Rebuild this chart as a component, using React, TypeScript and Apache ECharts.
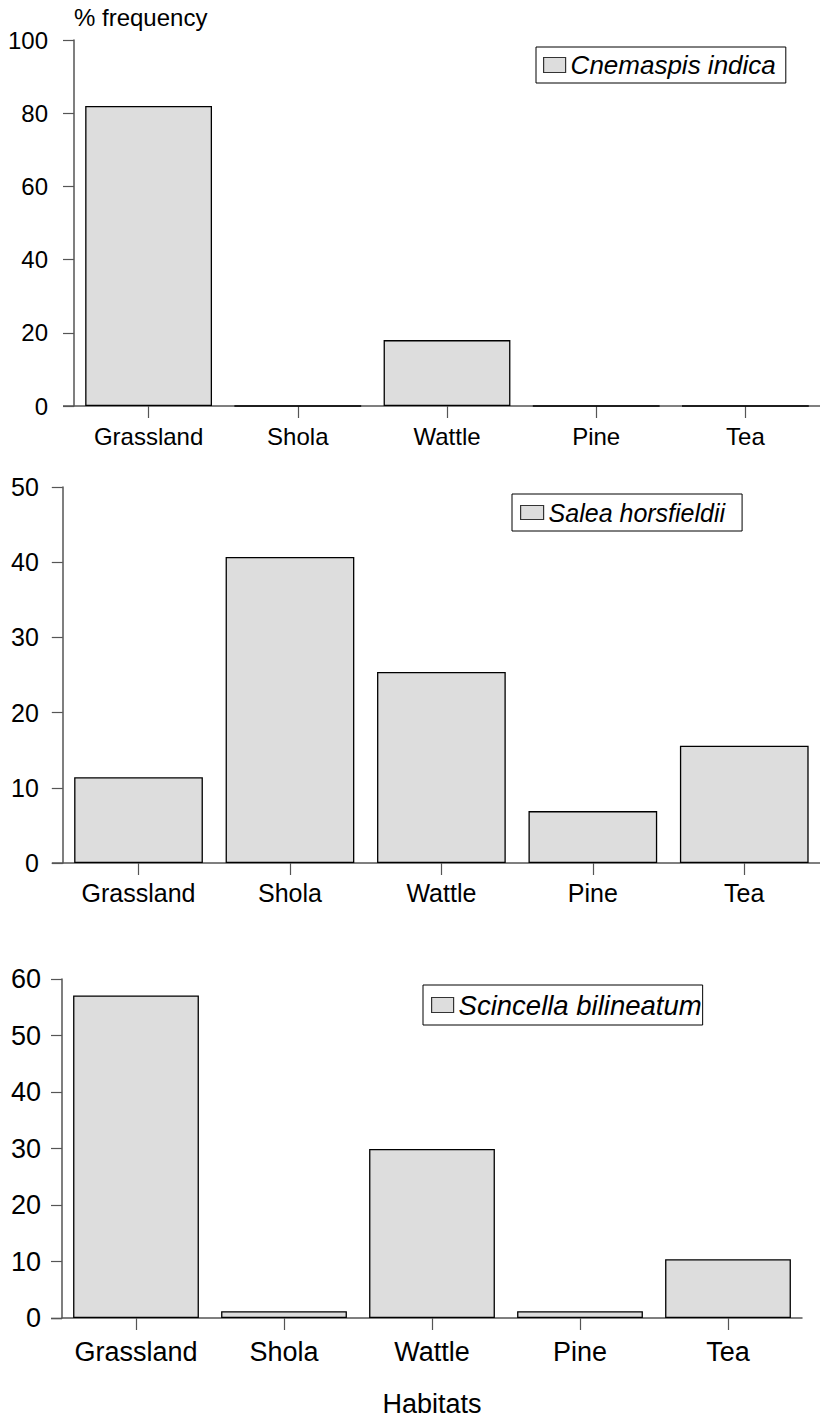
import React, { useEffect, useRef } from "react";
import * as echarts from "echarts";

const habitats = ["Grassland", "Shola", "Wattle", "Pine", "Tea"];
const speciesNames = ["Cnemaspis indica", "Salea horsfieldii", "Scincella bilineatum"];
const cnemaspis = [82, 0, 18, 0, 0];
const salea = [11.4, 40.7, 25.4, 6.9, 15.6];
const scincella = [57.1, 1.2, 29.9, 1.2, 10.4];
const yMax = [100, 50, 60];
const yInterval = [20, 10, 10];

const FONT = "'Liberation Sans', Arial, Helvetica, sans-serif";
const AXIS = "#555555";

export default function App() {
  const ref = useRef<HTMLDivElement>(null);
  useEffect(() => {
    if (!ref.current) return;
    const chart = echarts.init(ref.current, undefined, { renderer: "svg" });
    const grids = [
      { left: 74, top: 40, width: 755, height: 366 },
      { left: 62.8, top: 487, width: 765, height: 376 },
      { left: 62, top: 979, width: 740, height: 339.5 },
    ];
    const fs = [24, 25, 27];
    const xMargin = [18, 17, 20];
    const yMargin = [26, 24, 21];
    const dataSets = [cnemaspis, salea, scincella];
    const legendPos = [
      { left: 536, top: 47, iw: 22, ih: 15, fs: 26, lh: 26, pad: [5, 10, 5, 7] },
      { left: 512, top: 494, iw: 23, ih: 14, fs: 25, lh: 25, pad: [6, 17, 6, 8] },
      { left: 423, top: 985, iw: 22, ih: 15, fs: 27.5, lh: 28, pad: [6, 1, 6, 8] },
    ];
    const option: any = {
      animation: false,
      backgroundColor: "#ffffff",
      textStyle: { fontFamily: FONT },
      grid: grids.map((g) => ({ ...g, containLabel: false })),
      xAxis: grids.map((_, i) => ({
        type: "category",
        gridIndex: i,
        data: habitats,
        axisLine: { show: true, lineStyle: { color: AXIS, width: 1.5 } },
        axisTick: { show: true, alignWithLabel: true, interval: 0, length: 12, lineStyle: { color: AXIS, width: 1.2 } },
        axisLabel: { color: "#000", fontSize: fs[i], fontFamily: FONT, margin: xMargin[i], interval: 0 },
        splitLine: { show: false },
        ...(i === 2
          ? {
              name: "Habitats",
              nameLocation: "middle",
              nameGap: 72,
              nameTextStyle: { color: "#000", fontSize: 27, fontFamily: FONT },
            }
          : {}),
      })),
      yAxis: grids.map((_, i) => ({
        type: "value",
        gridIndex: i,
        min: 0,
        max: yMax[i],
        interval: yInterval[i],
        axisLine: { show: true, lineStyle: { color: AXIS, width: 1.5 } },
        axisTick: { show: true, length: 11, lineStyle: { color: AXIS, width: 1.2 } },
        axisLabel: { color: "#000", fontSize: fs[i], fontFamily: FONT, margin: yMargin[i] },
        splitLine: { show: false },
        ...(i === 0
          ? {
              name: "% frequency",
              nameLocation: "end",
              nameGap: 11,
              nameTextStyle: { color: "#000", fontSize: 24, fontFamily: FONT, align: "left" },
            }
          : {}),
      })),
      legend: legendPos.map((l, i) => ({
        data: [speciesNames[i]],
        left: l.left,
        top: l.top,
        orient: "horizontal",
        padding: l.pad,
        itemWidth: l.iw,
        itemHeight: l.ih,
        icon: "rect",
        backgroundColor: "#fff",
        borderColor: "#000",
        borderWidth: 1,
        borderRadius: 0,
        selectedMode: false,
        itemStyle: { color: "#dddddd", borderColor: "#333", borderWidth: 1.2 },
        textStyle: { color: "#000", fontSize: l.fs, lineHeight: l.lh, fontStyle: "italic", fontFamily: FONT },
      })),
      series: dataSets.map((d, i) => ({
        type: "bar",
        name: speciesNames[i],
        xAxisIndex: i,
        yAxisIndex: i,
        data: d,
        barCategoryGap: "15%",
        itemStyle: { color: "#dddddd", borderColor: "#000", borderWidth: 1.3 },
      })),
      graphic: [
        { type: "line", shape: { x1: 63, y1: 406, x2: 74, y2: 406 }, style: { stroke: AXIS, lineWidth: 1.5 } },
        { type: "line", shape: { x1: 51.8, y1: 863, x2: 62.8, y2: 863 }, style: { stroke: AXIS, lineWidth: 1.5 } },
        { type: "line", shape: { x1: 51, y1: 1318.5, x2: 62, y2: 1318.5 }, style: { stroke: AXIS, lineWidth: 1.5 } },
      ],
    };
    chart.setOption(option);
    return () => chart.dispose();
  }, []);
  return (
    <div
      ref={ref}
      style={{ position: "absolute", left: 0, top: 0, width: 820, height: 1418, background: "#fff" }}
    />
  );
}
